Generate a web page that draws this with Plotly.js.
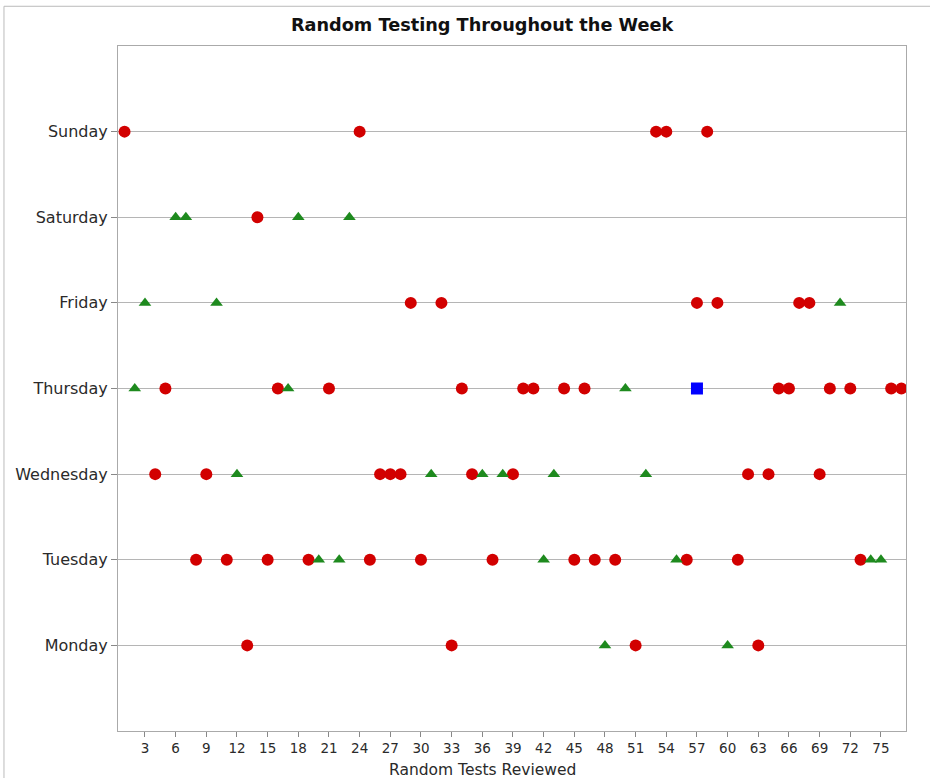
<!DOCTYPE html>
<html>
<head>
<meta charset="utf-8">
<script src="https://cdn.plot.ly/plotly-3.0.1.min.js"></script>
<style>html,body{margin:0;padding:0;background:#fff;}#chart{width:930px;height:778px;}</style>
</head>
<body>
<div id="chart"></div>
<script>
const days = ["Monday","Tuesday","Wednesday","Thursday","Friday","Saturday","Sunday"];
const xTicks = [3,6,9,12,15,18,21,24,27,30,33,36,39,42,45,48,51,54,57,60,63,66,69,72,75];

// red circles
const redX = [1,24,53,54,58,
  14,
  29,32,57,59,67,68,
  5,16,21,34,40,41,44,46,65,66,70,72,76,77,
  4,9,26,27,28,35,39,62,64,69,
  8,11,15,19,25,30,37,45,47,49,56,61,73,
  13,33,51,63];
const redDay = ["Sunday","Sunday","Sunday","Sunday","Sunday",
  "Saturday",
  "Friday","Friday","Friday","Friday","Friday","Friday",
  "Thursday","Thursday","Thursday","Thursday","Thursday","Thursday","Thursday","Thursday","Thursday","Thursday","Thursday","Thursday","Thursday","Thursday",
  "Wednesday","Wednesday","Wednesday","Wednesday","Wednesday","Wednesday","Wednesday","Wednesday","Wednesday","Wednesday",
  "Tuesday","Tuesday","Tuesday","Tuesday","Tuesday","Tuesday","Tuesday","Tuesday","Tuesday","Tuesday","Tuesday","Tuesday","Tuesday",
  "Monday","Monday","Monday","Monday"];

// green triangles
const greenX = [6,7,18,23,
  3,10,71,
  2,17,50,
  12,31,36,38,43,52,
  20,22,42,55,74,75,
  48,60];
const greenDay = ["Saturday","Saturday","Saturday","Saturday",
  "Friday","Friday","Friday",
  "Thursday","Thursday","Thursday",
  "Wednesday","Wednesday","Wednesday","Wednesday","Wednesday","Wednesday",
  "Tuesday","Tuesday","Tuesday","Tuesday","Tuesday","Tuesday",
  "Monday","Monday"];

// blue square
const blueX = [57];
const blueDay = ["Thursday"];

const font = "DejaVu Sans, Verdana, sans-serif";

const traces = [
  {type:"scatter", mode:"markers", x:redX, y:redDay, showlegend:false, hoverinfo:"x+y",
   marker:{symbol:"circle", size:12, color:"#d20000", line:{width:0}}},
  {type:"scatter", mode:"markers", x:greenX, y:greenDay, showlegend:false, hoverinfo:"x+y",
   marker:{symbol:"triangle-up", size:11, color:"#1e8a1e", line:{width:0}}},
  {type:"scatter", mode:"markers", x:blueX, y:blueDay, showlegend:false, hoverinfo:"x+y",
   marker:{symbol:"square", size:12, color:"#0000ff", line:{width:0}}}
];

const layout = {
  width:930, height:778,
  margin:{l:118, r:24, t:46, b:47},
  paper_bgcolor:"#ffffff", plot_bgcolor:"#ffffff",
  font:{family:font, color:"#2a2a2a", size:13},
  title:{text:"<b>Random Testing Throughout the Week</b>", font:{family:font, size:17.7, color:"#111"},
         xref:"paper", x:0.462, xanchor:"center", yref:"container", y:0.968, yanchor:"middle"},
  xaxis:{range:[0.36,77.45], tickmode:"array", tickvals:xTicks, ticktext:xTicks.map(String),
         ticks:"outside", ticklen:5, tickcolor:"#888", showgrid:false, zeroline:false,
         showline:true, linecolor:"#aaa", linewidth:1, mirror:true,
         tickfont:{family:font, size:13.5, color:"#2a2a2a"}},
  yaxis:{type:"category", categoryorder:"array", categoryarray:days, range:[-1,7],
         ticks:"outside", ticklen:6, tickcolor:"#888", showgrid:true, gridcolor:"#b5b5b5", gridwidth:1,
         zeroline:false, showline:true, linecolor:"#aaa", linewidth:1, mirror:true,
         tickfont:{family:font, size:16, color:"#2a2a2a"}},
  annotations:[{text:"Random Tests Reviewed", xref:"paper", yref:"paper", x:0.462, y:-0.057,
                xanchor:"center", yanchor:"middle", showarrow:false, font:{family:font, size:15.5, color:"#2a2a2a"}}],
  shapes:[
    {type:"line", xref:"paper", yref:"paper", x0:-0.1447, x1:-0.1447, y0:1.058, y1:-0.1, line:{color:"#bbb", width:1}},
    {type:"line", xref:"paper", yref:"paper", x0:-0.1447, x1:1.04, y0:1.058, y1:1.058, line:{color:"#bbb", width:1}}
  ]
};

Plotly.newPlot("chart", traces, layout, {displayModeBar:false, staticPlot:true});
</script>
</body>
</html>
